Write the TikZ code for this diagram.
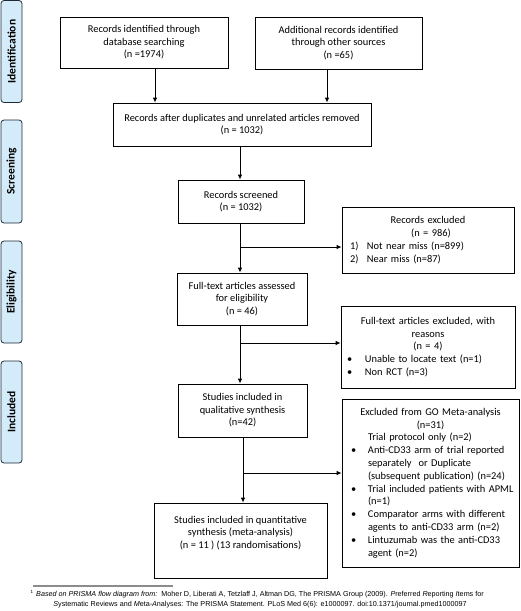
\documentclass[tikz,border=0pt]{standalone}
\usepackage{fontspec}
\setmainfont{Carlito}
\newfontfamily\ftfont{Liberation Sans}
\usetikzlibrary{arrows.meta}
\definecolor{sidefill}{HTML}{D4EBFA}
\definecolor{sidebd}{HTML}{1E2A38}
\definecolor{rulegray}{HTML}{8C8C8C}
\newcommand{\cl}[1]{\hspace*{\fill}#1\hspace*{\fill}\null}
\newcommand{\li}[4]{\hspace*{#1}\rlap{#3}\hspace*{#2}#4}
\begin{document}
\begin{tikzpicture}[x=1pt,y=-1pt,
  box/.style={draw=black,line width=0.8pt,inner sep=0pt,align=center,font=\fontsize{10.4}{12.6}\selectfont},
  lbox/.style={draw=black,line width=0.8pt,inner sep=0pt,align=left,font=\fontsize{10.4}{12.8}\selectfont},
  side/.style={draw=sidebd,fill=sidefill,rounded corners=3pt,line width=0.8pt,inner sep=0pt,rotate=90,minimum width=102pt,minimum height=21pt,font=\fontsize{11.5}{12}\selectfont\bfseries},
  arr/.style={line width=0.9pt,-{Latex[length=5pt,width=4.5pt]}},
  ln/.style={line width=0.9pt}]
\useasboundingbox (0,0) rectangle (520,611);

% side labels
\node[side] (s1) at (11.5,51.5) {Identification};
\node[side,minimum width=103pt] (s2) at (11.5,171.5) {Screening};
\node[side] (s3) at (11.5,292) {Eligibility};
\node[side] (s4) at (11.5,412) {Included};

% main boxes
\node[box,minimum width=168pt,minimum height=51pt] (b1) at (144,42.5)
  {Records identified through\\database searching\\(n =1974)};
\node[box,minimum width=167pt,minimum height=52pt] (b2) at (338.5,43)
  {Additional records identified\\through other sources\\(n =65)};
\node[box,minimum width=258pt,minimum height=43pt] (b3) at (242,124.5)
  {Records after duplicates and unrelated articles removed\\(n = 1032)};
\node[box,minimum width=126pt,minimum height=43pt] (b4) at (241,201.5)
  {Records screened\\(n = 1032)};
\node[box,minimum width=130pt,minimum height=52pt] (b5) at (242,299)
  {Full-text articles assessed\\for eligibility\\(n = 46)};
\node[box,minimum width=129pt,minimum height=53pt] (b6) at (242.5,410.5)
  {Studies included in\\qualitative synthesis\\(n=42)};
\node[box,minimum width=173pt,minimum height=75pt] (b7) at (240.5,540.5)
  {Studies included in quantitative\\synthesis (meta-analysis)\\(n = 11 ) (13 randomisations)\\[4pt]};

% exclusion boxes
\node[lbox,text width=172pt,minimum height=66pt] (e1) at (428,240)
  {\cl{Records excluded}\\
   \cl{\hspace*{6pt}(n = 986)}\\
   \li{8pt}{17pt}{1)}{Not near miss (n=899)}\\
   \li{8pt}{17pt}{2)}{Near miss (n=87)}};
\node[lbox,text width=174pt,minimum height=82pt] (e2) at (428,347)
  {\cl{Full-text articles excluded, with}\\
   \cl{reasons}\\
   \cl{(n = 4)}\\
   \li{6pt}{18pt}{•}{Unable to locate text (n=1)}\\
   \li{6pt}{18pt}{•}{Non RCT (n=3)}};
\node[lbox,text width=177pt,minimum height=168pt] (e3) at (430.5,483)
  {\cl{Excluded from GO Meta-analysis}\\
   \cl{(n=31)}\\
   \li{9pt}{17pt}{}{Trial protocol only (n=2)}\\
   \li{9pt}{17pt}{•}{Anti-CD33 arm of trial reported}\\
   \li{9pt}{17pt}{}{separately\ \ or Duplicate}\\
   \li{9pt}{17pt}{}{(subsequent publication) (n=24)}\\
   \li{9pt}{17pt}{•}{Trial included patients with APML}\\
   \li{9pt}{17pt}{}{(n=1)}\\
   \li{9pt}{17pt}{•}{Comparator arms with different}\\
   \li{9pt}{17pt}{}{agents to anti-CD33 arm (n=2)}\\
   \li{9pt}{17pt}{•}{Lintuzumab was the anti-CD33}\\
   \li{9pt}{17pt}{}{agent (n=2)}};

% guide coordinates
\coordinate (x1) at (155,0);
\coordinate (x2) at (327,0);
\coordinate (xm) at (240,0);
\coordinate (xq) at (243,0);
\coordinate (j1) at (240,247);
\coordinate (j2) at (240,343);
\coordinate (j3) at (243,473);

% connectors
\draw[arr] (b1.south -| x1) -- (b3.north -| x1);
\draw[arr] (b2.south -| x2) -- (b3.north -| x2);
\draw[arr] (b3.south -| xm) -- (b4.north -| xm);
\draw[arr] (b4.south -| xm) -- (b5.north -| xm);
\draw[arr] (j1) -- (e1.west |- j1);
\draw[arr] (b5.south -| xm) -- (b6.north -| xm);
\draw[arr] (j2) -- (e2.west |- j2);
\draw[arr] (b6.south -| xq) -- (b7.north -| xq);
\draw[arr] (j3) -- (e3.west |- j3);

% footnote
\coordinate (r1) at (33,586);
\coordinate (r2) at (173,586);
\draw[rulegray,line width=1.2pt] (r1) -- (r2);
\node[anchor=base,inner sep=0pt,align=center,font=\ftfont\fontsize{7.2}{10}\selectfont] (fn) at (260,606)
  {\llap{\raisebox{3pt}{\fontsize{4.5}{4.5}\selectfont 1}\hspace{3pt}}\textit{Based on PRISMA flow diagram from:}\ \ Moher D, Liberati A, Tetzlaff J, Altman DG, The PRISMA Group (2009). \textit{P}referred \textit{R}eporting \textit{I}tems for\\
   \textit{S}ystematic Reviews and \textit{M}eta-\textit{A}nalyses: The PRISMA Statement. PLoS Med 6(6): e1000097. doi:10.1371/journal.pmed1000097};
\end{tikzpicture}
\end{document}
